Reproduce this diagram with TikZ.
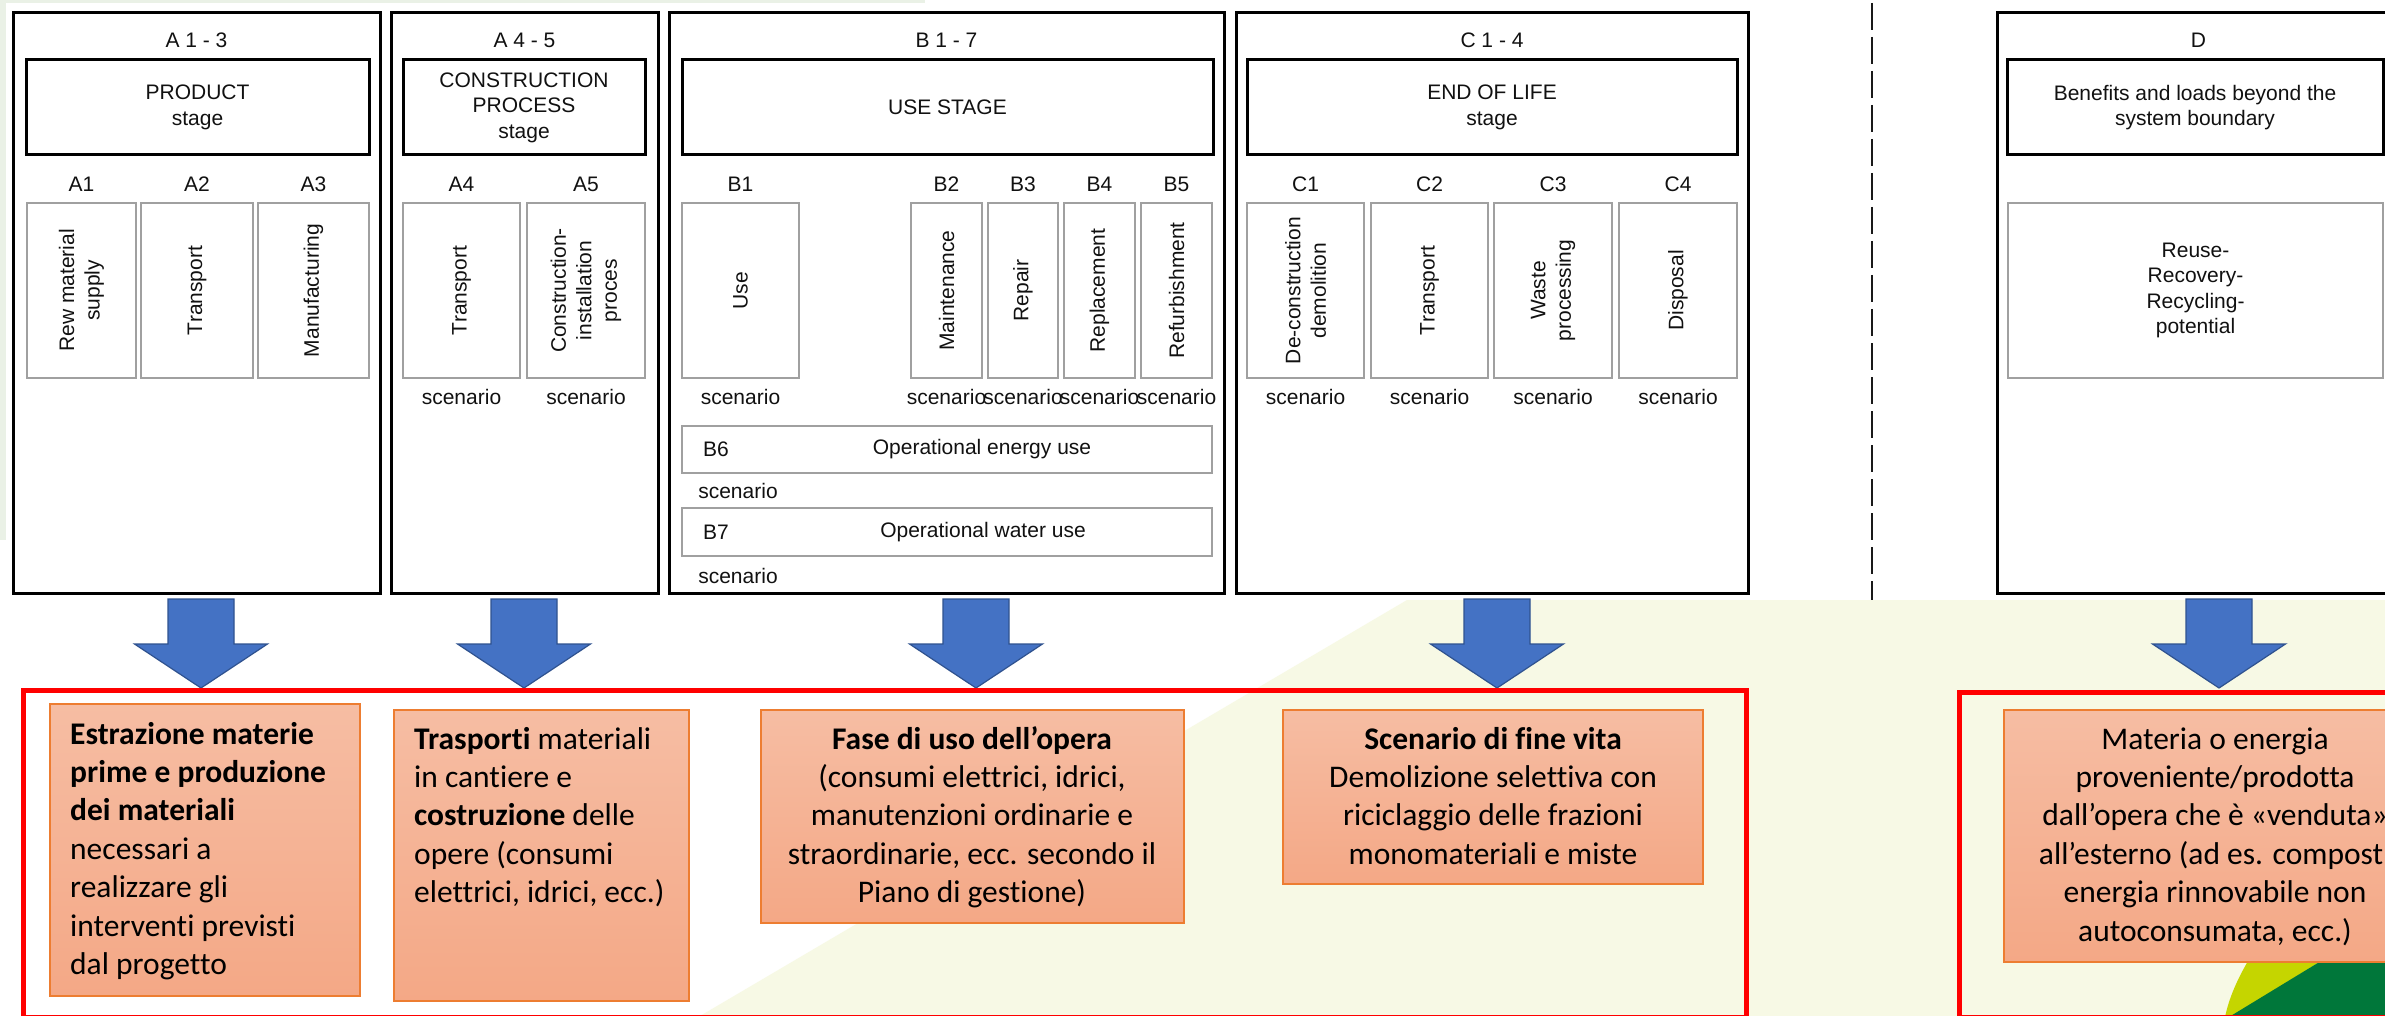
\documentclass[tikz,border=0pt]{standalone}
\usepackage{fontspec}
\setmainfont{Liberation Sans}
\newfontfamily\calfont[Ligatures=NoCommon]{Carlito}
\usetikzlibrary{calc}

\definecolor{arrowblue}{HTML}{4472C4}
\definecolor{arrowedge}{HTML}{2F528F}
\definecolor{orangeedge}{HTML}{ED7D31}
\definecolor{orangetop}{HTML}{F6BDA3}
\definecolor{orangebot}{HTML}{F4A886}
\definecolor{paleyellow}{HTML}{F7F9E5}
\definecolor{palegreen}{HTML}{EAF1E6}
\definecolor{limegreen}{HTML}{C5D500}
\definecolor{darkgreen}{HTML}{00773A}
\definecolor{redline}{HTML}{FF0000}
\definecolor{subgray}{HTML}{A0A0A0}
\definecolor{txt}{HTML}{111111}

\tikzset{
  lab/.style={font=\fontsize{21}{25.5}\selectfont, text=txt, inner sep=0pt, align=center},
  outerbox/.style={draw=black, line width=3pt},
  titlebox/.style={draw=black, line width=3pt, lab},
  subbox/.style={draw=subgray, line width=1.2pt, lab},
  orangebox/.style={draw=orangeedge, line width=1.5pt, top color=orangetop, bottom color=orangebot},
  otext/.style={font=\calfont\fontsize{31.5}{38.4}\selectfont, text=black, inner sep=0pt},
  redbox/.style={draw=redline, line width=5pt},
  blockarrow/.style={fill=arrowblue, draw=arrowedge, line width=1.2pt, line join=miter},
  dashline/.style={draw=black!90, line width=2.5pt, dash pattern=on 27pt off 7pt}
}

% rectangle node: [style]{name}{x1}{y1}{x2}{y2}{text}
\newcommand\rbox[7][]{\node[#1, minimum width={(#5-#3)*1pt}, minimum height={(#6-#4)*1pt}, inner sep=0pt, outer sep=0pt] (#2) at ({(#3+#5)/2},{(#4+#6)/2}) {#7};}
% block arrow centred at x
\newcommand\blockdown[2]{\draw[blockarrow] (#1-33,599) -- (#1+33,599) -- (#1+33,644) -- (#1+66.5,644) -- (#1,688) -- (#1-66.5,644) -- (#1-33,644) -- cycle;
  \coordinate (#2) at (#1,688);}

\begin{document}
\begin{tikzpicture}[x=1pt,y=-1pt]
\useasboundingbox (0,0) rectangle (2385,1016);
\clip (0,0) rectangle (2385,1016);
\fill[white] (0,0) rectangle (2385,1016);
% background
\fill[palegreen] (0,0) rectangle (925,3);
\fill[palegreen] (0,0) rectangle (6,540);
\fill[paleyellow] (1407,600) -- (2385,600) -- (2385,1016) -- (700,1016) -- cycle;

% ===== A 1-3 =====
\rbox[outerbox]{A}{13}{13}{380}{593}{}
\node[lab] (hA) at ($(A.north)+(0,27)$) {A 1 - 3};
\rbox[titlebox]{tA}{26}{60}{369}{155}{PRODUCT\\stage}
\rbox[subbox]{sA1}{27}{203}{136}{378}{}
\rbox[subbox]{sA2}{141}{203}{253}{378}{}
\rbox[subbox]{sA3}{258}{203}{369}{378}{}
\node[lab, rotate=90] (rA1) at (sA1) {Rew material\\supply};
\node[lab, rotate=90] (rA2) at (sA2) {Transport};
\node[lab, rotate=90] (rA3) at (sA3) {Manufacturing};
\node[lab] (lA1) at ($(sA1.north)+(0,-19)$) {A1};
\node[lab] (lA2) at ($(sA2.north)+(0,-19)$) {A2};
\node[lab] (lA3) at ($(sA3.north)+(0,-19)$) {A3};

% ===== A 4-5 =====
\rbox[outerbox]{AB}{391}{13}{658}{593}{}
\node[lab] (hAB) at ($(AB.north)+(0,27)$) {A 4 - 5};
\rbox[titlebox]{tAB}{403}{60}{645}{155}{CONSTRUCTION\\PROCESS\\stage}
\rbox[subbox]{sA4}{403}{203}{520}{378}{}
\rbox[subbox]{sA5}{527}{203}{645}{378}{}
\node[lab, rotate=90] (rA4) at (sA4) {Transport};
\node[lab, rotate=90] (rA5) at (sA5) {Construction-\\installation\\proces};
\node[lab] (lA4) at ($(sA4.north)+(0,-19)$) {A4};
\node[lab] (lA5) at ($(sA5.north)+(0,-19)$) {A5};
\node[lab] (scA4) at ($(sA4.south)+(0,19)$) {scenario};
\node[lab] (scA5) at ($(sA5.south)+(0,19)$) {scenario};

% ===== B 1-7 =====
\rbox[outerbox]{B}{669}{13}{1224}{593}{}
\node[lab] (hB) at ($(B.north)+(0,27)$) {B 1 - 7};
\rbox[titlebox]{tB}{682}{60}{1213}{155}{USE STAGE}
\rbox[subbox]{sB1}{682}{203}{799}{378}{}
\rbox[subbox]{sB2}{911}{203}{982}{378}{}
\rbox[subbox]{sB3}{988}{203}{1058}{378}{}
\rbox[subbox]{sB4}{1064}{203}{1135}{378}{}
\rbox[subbox]{sB5}{1141}{203}{1212}{378}{}
\node[lab, rotate=90] (rB1) at (sB1) {Use};
\node[lab, rotate=90] (rB2) at (sB2) {Maintenance};
\node[lab, rotate=90] (rB3) at (sB3) {Repair};
\node[lab, rotate=90] (rB4) at (sB4) {Replacement};
\node[lab, rotate=90] (rB5) at (sB5) {Refurbishment};
\foreach \b in {1,...,5}{
  \node[lab] (lB\b) at ($(sB\b.north)+(0,-19)$) {B\b};
  \node[lab] (scB\b) at ($(sB\b.south)+(0,19)$) {scenario};
}
\rbox[subbox]{sB6}{682}{426}{1212}{473}{}
\node[lab] (lB6) at (716,449) {B6};
\node[lab] (oB6) at (982,449) {Operational energy use};
\node[lab] (scB6) at (738,491) {scenario};
\rbox[subbox]{sB7}{682}{508}{1212}{556}{}
\node[lab] (lB7) at (716,532) {B7};
\node[lab] (oB7) at (983,532) {Operational water use};
\node[lab] (scB7) at (738,576) {scenario};

% ===== C 1-4 =====
\rbox[outerbox]{C}{1236}{13}{1748}{593}{}
\node[lab] (hC) at ($(C.north)+(0,27)$) {C 1 - 4};
\rbox[titlebox]{tC}{1247}{60}{1737}{155}{END OF LIFE\\stage}
\rbox[subbox]{sC1}{1247}{203}{1364}{378}{}
\rbox[subbox]{sC2}{1371}{203}{1488}{378}{}
\rbox[subbox]{sC3}{1494}{203}{1612}{378}{}
\rbox[subbox]{sC4}{1619}{203}{1737}{378}{}
\node[lab, rotate=90] (rC1) at (sC1) {De-construction\\demolition};
\node[lab, rotate=90] (rC2) at (sC2) {Transport};
\node[lab, rotate=90] (rC3) at (sC3) {Waste\\processing};
\node[lab, rotate=90] (rC4) at (sC4) {Disposal};
\foreach \c in {1,...,4}{
  \node[lab] (lC\c) at ($(sC\c.north)+(0,-19)$) {C\c};
  \node[lab] (scC\c) at ($(sC\c.south)+(0,19)$) {scenario};
}

% dashed boundary
\coordinate (dtop) at (1872,3);
\coordinate (dbot) at (1872,600);
\draw[dashline] (dtop) -- (dbot);

% ===== D =====
\rbox[outerbox]{D}{1997}{13}{2400}{593}{}
\node[lab] (hD) at ($(D.north)+(0,27)$) {D};
\rbox[titlebox]{tD}{2007}{60}{2383}{155}{Benefits and loads beyond the\\system boundary}
\rbox[subbox]{sD}{2008}{203}{2383}{378}{Reuse-\\Recovery-\\Recycling-\\potential}

% ===== arrows =====
\blockdown{201}{pA}
\blockdown{524}{pAB}
\blockdown{976}{pB}
\blockdown{1497}{pC}
\blockdown{2219}{pD}

% ===== green logo piece =====
\fill[limegreen] (2248,961) .. controls (2237,980) and (2229,998) .. (2225,1017) -- (2231,1017) -- (2321,961) -- cycle;
\fill[darkgreen] (2321,961) -- (2229,1017) -- (2390,1017) -- (2390,961) -- cycle;

% ===== red frames =====
\rbox[redbox]{R1}{23}{690}{1746}{1017}{}
\rbox[redbox]{R2}{1959}{692}{2430}{1017}{}

% ===== orange boxes =====
\rbox[orangebox]{O1}{50}{704}{360}{996}{}
\rbox[orangebox]{O2}{394}{710}{689}{1001}{}
\rbox[orangebox]{O3}{761}{710}{1184}{923}{}
\rbox[orangebox]{O4}{1283}{710}{1703}{884}{}
\rbox[orangebox]{O5}{2004}{710}{2426}{962}{}

% anchor=base is the baseline of the last line
\node[otext, align=left, anchor=base west] (T1) at (70,974.4)
 {\textbf{Estrazione materie}\\\textbf{prime e produzione}\\\textbf{dei materiali}\\necessari a\\realizzare gli\\interventi previsti\\dal progetto};
\node[otext, align=left, anchor=base west] (T2) at (414,902.6)
 {\textbf{Trasporti} materiali\\in cantiere e\\\textbf{costruzione} delle\\opere (consumi\\elettrici, idrici, ecc.)};
\node[otext, align=center, anchor=base] (T3) at (972,902.6)
 {\textbf{Fase di uso dell’opera}\\(consumi elettrici, idrici,\\manutenzioni ordinarie e\\straordinarie, ecc. secondo il\\Piano di gestione)};
\node[otext, align=center, anchor=base] (T4) at (1493,864.2)
 {\textbf{Scenario di fine vita}\\Demolizione selettiva con\\riciclaggio delle frazioni\\monomateriali e miste};
\node[otext, align=center, anchor=base] (T5) at (2215,941)
 {Materia o energia\\proveniente/prodotta\\dall’opera che è «venduta»\\all’esterno (ad es. compost,\\energia rinnovabile non\\autoconsumata, ecc.)};
\end{tikzpicture}
\end{document}
